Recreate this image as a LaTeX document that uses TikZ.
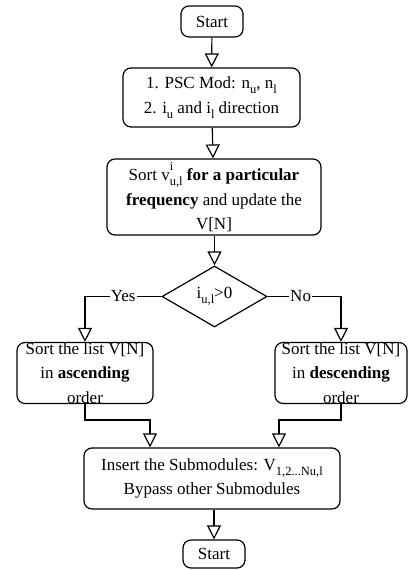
\documentclass[tikz,border=0pt]{standalone}
\usepackage{fontspec}
\setmainfont{Liberation Serif}
\usetikzlibrary{arrows.meta,shapes.geometric}
\newcommand{\sbx}[1]{\raisebox{-0.3em}{\fontsize{12.5}{12.5}\selectfont #1}}
\newcommand{\spx}[1]{\raisebox{0.6em}{\fontsize{12.5}{12.5}\selectfont #1}}
\newcommand{\supsubx}[2]{\makebox[0pt][l]{\spx{#1}}\sbx{#2}}
\begin{document}
\begin{tikzpicture}[x=1pt,y=1pt,
  box/.style={draw,line width=1.2pt,rounded corners=8pt,inner sep=0pt,align=center,
    font=\fontsize{17}{24.5}\selectfont},
  cond/.style={draw,diamond,line width=1.2pt,inner sep=0pt,font=\fontsize{17}{24}\selectfont},
  flow/.style={line width=1.2pt,-{Triangle[open,length=14pt,width=14pt,line width=1.2pt]}},
  lbl/.style={fill=white,inner sep=1pt,font=\fontsize{17}{24}\selectfont}]
\useasboundingbox (0,0) rectangle (408,-571);
\node[box,minimum width=62,minimum height=31] (start) at (212,-21.5) {Start};
\node[box,minimum width=177,minimum height=59] (b1) at (211.5,-97.5)
  {1. PSC Mod: n\sbx{u}, n\sbx{l}\\2. i\sbx{u} and i\sbx{l} direction};
\node[box,minimum width=214,minimum height=76] (b2) at (214,-197)
  {Sort v\supsubx{i}{u,l} \textbf{for a particular}\\\textbf{frequency} and update the\\V[N]};
\node[cond,minimum width=105,minimum height=61] (dia) at (214.5,-296.5) {i\sbx{u,l}>0};
\node[box,minimum width=136,minimum height=60] (left) at (85,-373)
  {Sort the list V[N]\\in \textbf{ascending}\\order};
\node[box,minimum width=132,minimum height=60] (right) at (341,-373)
  {Sort the list V[N]\\in \textbf{descending}\\order};
\node[box,minimum width=256,minimum height=61] (bot) at (212,-478.5)
  {Insert the Submodules: V\sbx{1,2...Nu,l}\\Bypass other Submodules};
\node[box,minimum width=62,minimum height=28] (end) at (214,-554) {Start};
\coordinate (jl) at (150,-420);
\coordinate (jr) at (279,-420);
\draw[flow] (start) -- (b1);
\draw[flow] (b1) -- (b2);
\draw[flow] (b2.south -| dia.north) -- (dia.north);
\draw[flow] (dia.west) -- node[lbl,pos=0.5]{Yes} (dia.west -| left.north) -- (left.north);
\draw[flow] (dia.east) -- node[lbl,pos=0.45]{No} (dia.east -| right.north) -- (right.north);
\draw[flow] (left.south) |- (jl) -- (jl |- bot.north);
\draw[flow] (right.south) |- (jr) -- (jr |- bot.north);
\draw[flow] (bot.south -| end.north) -- (end.north);
\end{tikzpicture}
\end{document}
